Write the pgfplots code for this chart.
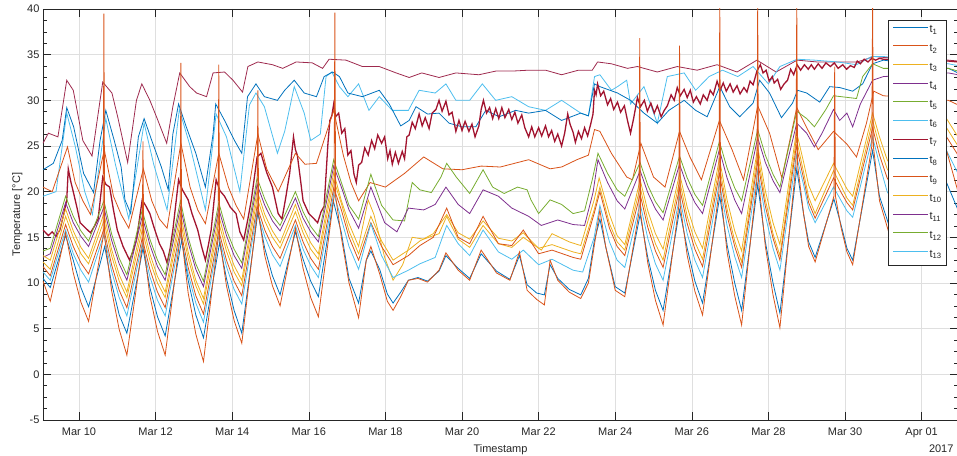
\documentclass[border=0pt]{standalone}
\usepackage{fontspec}
\setmainfont{Liberation Sans}
\usepackage{pgfplots}
\pgfplotsset{compat=1.18}
\definecolor{mB}{rgb}{0,0.447,0.741}
\definecolor{mO}{rgb}{0.850,0.325,0.098}
\definecolor{mY}{rgb}{0.929,0.694,0.125}
\definecolor{mP}{rgb}{0.494,0.184,0.556}
\definecolor{mG}{rgb}{0.466,0.674,0.188}
\definecolor{mC}{rgb}{0.301,0.745,0.933}
\definecolor{mR}{rgb}{0.635,0.078,0.184}
\definecolor{mM}{RGB}{158,42,78}
\definecolor{axc}{rgb}{0.15,0.15,0.15}
\definecolor{grd}{RGB}{223,223,223}
\newcommand{\fs}{\fontsize{11}{13}\selectfont}
\begin{document}
\begin{tikzpicture}
\begin{axis}[
  scale only axis, width=915pt, height=411pt,
  xmin=9.06, xmax=32.95, ymin=-5, ymax=40,
  xtick={10,12,...,32},
  xticklabels={Mar 10,Mar 12,Mar 14,Mar 16,Mar 18,Mar 20,Mar 22,Mar 24,Mar 26,Mar 28,Mar 30,Apr 01},
  ytick={-5,0,...,40},
  minor y tick num=3,
  grid=major, major grid style={grd, line width=0.6pt},
  axis line style={axc, line width=0.6pt},
  tick style={axc, line width=0.6pt},
  major tick length=8pt, minor tick length=4.5pt,
  tick align=inside,
  ticklabel style={font=\fs, text=axc},
  xticklabel style={anchor=base, yshift=-16pt},
  /pgf/number format/assume math mode=true,
  xlabel={Timestamp}, ylabel={Temperature [°C]},
  label style={font=\fs, text=axc},
  xlabel style={at={(axis description cs:0.5,0)}, anchor=base, yshift=-33pt},
  ylabel style={at={(axis description cs:-0.0251,0.5)}, anchor=base},
  every axis plot/.append style={line width=0.8pt},
  legend cell align=left,
  legend image code/.code={\draw[#1] (0pt,3.5pt) -- (35pt,3.5pt);},
  legend style={at={(rel axis cs:1,1)}, anchor=north east, xshift=-11pt, yshift=-11pt,
    draw=axc, line width=0.6pt, fill=white, font=\fs, text=axc,
    inner xsep=4pt, inner ysep=4pt, row sep=6.2pt,
    nodes={inner sep=1pt, text height=7.5pt, text depth=3pt}},
  legend entries={t\textsubscript{1},t\textsubscript{2},t\textsubscript{3},t\textsubscript{4},t\textsubscript{5},t\textsubscript{6},t\textsubscript{7},t\textsubscript{8},t\textsubscript{9},t\textsubscript{10},t\textsubscript{11},t\textsubscript{12},t\textsubscript{13}},
]
\addlegendimage{mB, line width=0.8pt}
\addlegendimage{mO, line width=0.8pt}
\addlegendimage{mY, line width=0.8pt}
\addlegendimage{mP, line width=0.8pt}
\addlegendimage{mG, line width=0.8pt}
\addlegendimage{mC, line width=0.8pt}
\addlegendimage{mR, line width=0.8pt}
\addlegendimage{mB, line width=0.8pt}
\addlegendimage{mO, line width=0.8pt}
\addlegendimage{mY, line width=0.8pt}
\addlegendimage{mP, line width=0.8pt}
\addlegendimage{mG, line width=0.8pt}
\addlegendimage{mC, line width=0.8pt}

% top maroon line
\addplot[mM, forget plot] coordinates {
(9.06,25.3) (9.2,26.4) (9.45,26) (9.68,32.2) (9.85,31.1) (10.1,25.6) (10.34,23.9) (10.55,30) (10.62,32) (10.86,30.8) (11.01,28.2) (11.27,23.2) (11.5,30) (11.64,31.8) (11.85,30) (12.06,27.8) (12.29,25.3) (12.45,29.3) (12.63,33) (12.89,31.5) (13.07,30.8) (13.33,30.4) (13.5,33) (13.8,33.1) (14.02,32.2) (14.27,30.9) (14.41,33.7) (14.67,34.2) (15.05,33.9) (15.32,33.5) (15.67,34.2) (16.09,34.1) (16.36,33.5) (16.53,34.5) (16.97,34.4) (17.4,33.7) (17.84,33.7) (18.28,33) (18.62,32.5) (18.95,33) (19.4,32.5) (19.84,33) (20.44,32.8) (20.88,33.2) (21.3,33.2) (21.74,33.3) (22.18,33.3) (22.6,32.8) (23.04,33.3) (23.4,33.3) (23.54,34.2) (23.9,34) (24.32,33.5) (24.58,33.7) (25.1,33.1) (25.62,33.7) (26.14,33.3) (26.66,33.9) (27.18,33.1) (27.7,34.4) (28.2,33.1) (28.75,34.4) (29.27,34.2) (29.8,34.2) (30.32,34.2) (30.76,34.8) (31.0,34.7) (32.7,34.4) (32.95,34.3)};
% cyan upper
\addplot[mC, forget plot] coordinates {
(9.06,19.5) (9.4,20) (9.68,28.6) (9.9,25) (10.15,20) (10.35,17.5) (10.7,28) (10.95,23) (11.3,17) (11.7,27.5) (11.95,23) (12.3,18) (12.62,29) (12.9,25) (13.3,18) (13.58,28.5) (13.85,26) (14.2,20) (14.45,29.5) (14.62,30.8) (14.84,29.3) (15.18,24.2) (15.37,26.6) (15.62,31.5) (15.88,28.6) (16.05,25.6) (16.3,26.3) (16.45,32.6) (16.6,33.1) (16.8,31.5) (17.02,30.4) (17.3,31.8) (17.57,28.9) (17.84,30.4) (18.18,28.9) (18.6,28.9) (18.88,31.1) (19.3,30.8) (19.58,31.8) (19.84,30) (20.2,30) (20.53,31.8) (20.88,30) (21.3,30.4) (21.74,29.3) (22.18,28.9) (22.6,30) (23.1,28.6) (23.3,28.3) (23.46,32.6) (23.6,32.8) (23.9,31.1) (24.06,31.5) (24.3,32.2) (24.4,29.6) (24.75,31.5) (25.1,27.5) (25.36,32.6) (25.8,33) (26.1,31.1) (26.45,32.6) (26.8,33.3) (27.2,32.6) (27.6,33.7) (28.0,31.8) (28.3,33.7) (28.75,34.5) (29.2,34.4) (29.8,34.2) (30.3,33.9) (30.7,34.8) (31.0,34.8) (32.7,34) (32.95,33.8)};
% blue upper
\addplot[mB, forget plot] coordinates {
(9.06,22.4) (9.33,23.1) (9.56,25.6) (9.68,29.2) (9.86,27.1) (10.12,22) (10.38,19.9) (10.55,25.6) (10.7,28.9) (10.92,25.6) (11.1,22.7) (11.2,19.1) (11.35,17.6) (11.55,26) (11.7,28) (11.9,25.6) (12.15,22.7) (12.33,20.2) (12.45,26.3) (12.6,29.6) (12.8,27.1) (13.05,24.2) (13.3,20.5) (13.5,26.3) (13.57,29.6) (13.8,27.8) (14.06,25.6) (14.25,24.2) (14.4,30.4) (14.62,31.8) (14.84,30.4) (15.18,30) (15.37,31.1) (15.62,32.2) (15.88,30.8) (16.2,30.4) (16.4,32.6) (16.62,33.1) (16.8,32.6) (17.02,30.8) (17.4,30.4) (17.84,31.1) (18.1,29.6) (18.4,27.2) (18.62,27.8) (18.8,29.3) (19.1,28.5) (19.4,28.6) (19.66,27.5) (20.0,27.1) (20.36,27.1) (20.62,28.9) (20.97,28.2) (21.4,28.9) (21.74,28.6) (22.18,28.9) (22.6,27.8) (23.1,28.6) (23.3,28.3) (23.46,31.8) (23.6,31.5) (24.06,30.8) (24.4,30) (24.75,28.6) (25.1,27.5) (25.4,28.9) (25.8,30) (26.1,28.9) (26.4,28.2) (26.73,31.5) (26.99,29.3) (27.25,28.2) (27.6,29.7) (27.77,32.2) (28.03,30.8) (28.34,28.1) (28.63,29.7) (28.76,31.1) (29.0,30.8) (29.34,29.8) (29.6,31.5) (29.86,31.4) (30.2,31) (30.46,31.8) (30.72,34) (31.0,34.4) (32.7,33.5) (32.95,33)};
% crimson noisy
\addplot[mR, forget plot, line width=1.3pt] coordinates {
(9.06,15.8) (9.2,15.2) (9.3,15.6) (9.4,15.1) (9.5,15.8) (9.6,17.5) (9.68,19.1) (9.72,22.5) (9.78,21.2) (9.85,20) (9.95,18.2) (10.03,16.6) (10.15,16.1) (10.3,15.5) (10.4,16.2) (10.5,17) (10.62,21.6) (10.7,20.8) (10.8,20.5) (10.9,18) (11.0,15.8) (11.15,14) (11.32,12.5) (11.42,13.6) (11.5,14.7) (11.65,19.1) (11.75,18.4) (11.85,17.6) (11.95,16.2) (12.1,14.3) (12.2,13.5) (12.3,12.2) (12.38,13.8) (12.45,15.8) (12.6,21.3) (12.7,20.2) (12.85,19.1) (12.95,17.6) (13.1,15.8) (13.2,14) (13.3,12.5) (13.38,14.2) (13.45,15.8) (13.58,21.3) (13.68,20.1) (13.8,19.5) (13.95,18.3) (14.1,17.6) (14.2,15.6) (14.3,14.7) (14.4,16.8) (14.5,19.1) (14.65,23.8) (14.75,24.2) (14.9,22.1) (15.05,20.5) (15.2,17.6) (15.3,17) (15.4,19.4) (15.5,22) (15.6,26) (15.65,24.6) (15.7,24) (15.78,21.4) (15.85,19) (16.0,17.6) (16.12,17.1) (16.23,16.6) (16.32,17.8) (16.4,18.4)
(16.5,25.3) (16.55,27.8) (16.6,28.3) (16.65,29.6) (16.7,28.2) (16.78,28.6) (16.86,26.4) (16.94,26.9) (17.02,24.0) (17.1,24.5) (17.18,21.9) (17.24,21.0) (17.3,22.9) (17.38,23.2) (17.46,24.8) (17.55,24.0) (17.64,25.6) (17.72,24.7) (17.8,26.2) (17.9,25.3) (17.98,26.0) (18.06,23.6) (18.12,24.5) (18.18,23.0) (18.26,24.3) (18.34,23.1) (18.44,24.4) (18.5,23.6) (18.56,26.0) (18.62,26.2) (18.7,27.6) (18.78,26.9) (18.88,28.5) (18.96,27.2) (19.04,28.1) (19.14,26.9) (19.22,28.6) (19.32,29.0) (19.4,30.0) (19.48,28.8) (19.58,29.9) (19.66,28.4) (19.74,28.7) (19.84,26.6) (19.92,27.8) (20.0,26.7) (20.08,27.7) (20.18,26.6) (20.26,27.4) (20.34,26.0) (20.44,27.2) (20.5,29.0) (20.56,30.0) (20.64,28.6) (20.72,29.2) (20.8,28.0) (20.88,29.1) (20.96,28.0) (21.04,29.2) (21.12,28.1) (21.22,29.0) (21.3,27.9) (21.38,28.7) (21.46,27.5) (21.56,28.4) (21.64,27.0) (21.74,26.0) (21.82,27.1) (21.9,26.0) (22.0,27.0) (22.08,26.1) (22.18,27.2) (22.26,26.0) (22.34,26.7) (22.42,25.5) (22.5,26.3) (22.6,25.0) (22.68,26.4) (22.76,28.5) (22.82,27.4) (22.9,26.5) (22.96,25.4) (23.04,26.6) (23.12,25.8) (23.2,27.0) (23.28,26.1) (23.36,27.4) (23.42,28.5) (23.46,31.1) (23.5,30.6) (23.54,31.8) (23.62,30.5) (23.7,31.0) (23.8,29.5) (23.88,30.2) (23.96,29.0) (24.06,29.8) (24.14,28.7) (24.24,29.4) (24.32,27.8) (24.4,26.4) (24.48,28.0) (24.58,30.3) (24.66,29.3) (24.76,30.0) (24.84,28.8) (24.93,29.7) (25.02,28.6) (25.1,29.4) (25.2,28.2) (25.28,28.9) (25.36,29.4) (25.46,30.6) (25.54,30.0) (25.62,31.4) (25.7,30.5) (25.8,31.2) (25.88,30.3) (25.96,31.1) (26.04,29.8) (26.12,30.4) (26.22,29.6) (26.3,30.6) (26.4,30.0) (26.48,31.1) (26.56,30.6) (26.66,32.1) (26.74,31.1) (26.82,31.9) (26.9,31.0) (27.0,31.8) (27.08,30.9) (27.18,31.6) (27.26,30.7) (27.36,31.4) (27.44,30.9) (27.52,32.1) (27.6,31.7) (27.7,33.2) (27.79,33.9) (27.86,33.0) (27.94,33.3) (28.02,32.1) (28.1,32.6) (28.15,31.9) (28.24,32.3) (28.32,31.2) (28.41,31.8) (28.5,32.2) (28.58,33.4) (28.66,32.8) (28.75,33.9) (28.84,33.3) (28.94,33.9) (29.04,33.4) (29.12,33.9) (29.2,33.4) (29.3,34.0) (29.4,33.5) (29.5,34.1) (29.62,33.7) (29.72,34.1) (29.82,33.5) (29.94,33.9) (30.04,33.4) (30.14,33.8) (30.24,33.6) (30.32,34.3) (30.4,34.0) (30.5,34.5) (30.6,34.2) (30.7,34.6) (30.8,34.4) (30.9,34.6) (31.0,34.5) (32.7,34.3) (32.95,34.2)};
% orange upper
\addplot[mO, forget plot] coordinates {
(9.06,20.5) (9.3,20) (9.7,24.9) (9.9,21) (10.1,19) (10.3,17.5) (10.66,24.6) (10.9,19.5) (11.1,17.5) (11.3,16) (11.68,22.5) (11.9,19) (12.1,17) (12.3,16) (12.66,25.3) (12.9,20.5) (13.1,18) (13.3,16.5) (13.65,24.2) (13.9,20.5) (14.1,18.5) (14.3,17) (14.67,26.3) (14.9,22.5) (15.2,20) (15.65,24.2) (15.9,23) (16.2,23.1) (16.65,28.9) (16.9,24) (17.1,21) (17.3,19) (17.6,21) (18.0,20.5) (18.5,22) (19.0,23.8) (19.5,22.5) (20.0,22.4) (20.5,22.8) (21.0,22.7) (21.74,23.5) (22.3,22.5) (22.6,22.7) (23.0,23.5) (23.3,24) (23.46,26.8) (23.6,26.6) (23.9,24.2) (24.3,21.6) (24.45,21.3) (24.67,25.3) (25.0,21.6) (25.3,20.5) (25.68,26.6) (25.95,23.8) (26.25,21.3) (26.72,27.8) (27.05,24.6) (27.35,21.3) (27.72,29.4) (28.03,26.4) (28.35,21.5) (28.74,29.2) (29.0,27) (29.3,24.6) (29.7,26.6) (30.05,25.2) (30.3,23.8) (30.56,27.5) (30.75,31) (31.0,30.5) (32.7,30) (32.95,29.5)};
% green
\addplot[mG, forget plot] coordinates {
(9.06,13.5) (9.25,13.8) (9.65,19.5) (9.85,17.3) (10.05,15.7) (10.25,14.6) (10.65,19.0) (10.85,15.4) (11.05,12.7) (11.25,10.9) (11.65,18.0) (11.85,14.8) (12.05,12.5) (12.25,10.9) (12.65,19.0) (12.85,15.0) (13.05,12.1) (13.25,10.2) (13.65,18.8) (13.85,15.8) (14.05,13.7) (14.25,12.2) (14.65,21.5) (14.85,19.2) (15.05,17.4) (15.25,16.3) (15.65,20.0) (15.85,17.8) (16.05,16.2) (16.25,15.1) (16.65,23.5)
(16.85,21.0) (17.05,18.5) (17.3,17.0) (17.62,21.9) (17.9,18.5) (18.2,16.9) (18.5,16.8) (18.7,21.0) (18.9,20.2) (19.2,19.9) (19.45,21.6) (19.6,23.1) (19.85,21.6) (20.2,19.8) (20.55,22.4) (20.8,20.5) (21.1,19.8) (21.45,20.5) (21.7,20.2) (21.8,19.1) (22.0,17.6) (22.3,19.1) (22.6,18.6) (22.9,17.6) (23.2,17.9) (23.4,21.3) (23.55,24.2) (23.8,22.0) (24.05,20.2)
(24.25,19.5) (24.65,23.2) (24.85,20.7) (25.05,18.9) (25.25,17.7) (25.68,23.9) (25.88,21.5) (26.08,19.7) (26.28,18.5) (26.72,25.5) (26.92,22.6) (27.12,20.4) (27.3,19.0) (27.72,26.8) (27.92,24.0) (28.12,21.9) (28.3,20.5) (28.74,28.8) (29.0,28.0) (29.2,27.1) (29.5,29.0) (29.7,30.5) (29.9,30.4) (30.3,30.2) (30.46,32.6) (30.72,34.0) (31.0,33.5) (32.7,33.5) (32.95,33.2)};
% purple
\addplot[mP, forget plot] coordinates {
(9.06,12.8) (9.25,13.2) (9.65,18.8) (9.85,16.6) (10.05,15.1) (10.25,14.0) (10.65,18.3) (10.85,14.7) (11.05,12.1) (11.25,10.3) (11.65,17.3) (11.85,14.2) (12.05,11.8) (12.25,10.3) (12.65,18.3) (12.85,14.4) (13.05,11.5) (13.25,9.6) (13.65,18.1) (13.85,15.2) (14.05,13.0) (14.25,11.6) (14.65,20.8) (14.85,18.5) (15.05,16.8) (15.25,15.7) (15.65,19.3) (15.85,17.1) (16.05,15.6) (16.25,14.5) (16.65,22.8)
(16.85,20.5) (17.05,18.0) (17.3,16.0) (17.62,20.5) (17.98,16.6) (18.3,15.6) (18.6,18.2) (19.0,18.0) (19.3,18.6) (19.58,20.5) (19.9,18.6) (20.2,17.6) (20.55,20.2) (20.95,19.5) (21.3,18.2) (21.74,17.3) (22.07,16.3) (22.5,16.9) (22.9,16.4) (23.2,16.3) (23.42,19.9) (23.55,23.5) (23.8,21.0) (24.05,19.0)
(24.25,18.1) (24.65,22.3) (24.85,19.9) (25.05,18.1) (25.25,16.9) (25.68,23.0) (25.88,20.6) (26.08,18.8) (26.28,17.6) (26.72,24.6) (26.92,21.5) (27.12,19.1) (27.3,17.6) (27.72,25.9) (27.92,23.2) (28.12,21.2) (28.3,19.9) (28.74,27.5) (29.0,26.4) (29.2,24.9) (29.4,26.4) (29.7,29.0) (29.86,27.8) (30.05,28.6) (30.2,27.1) (30.4,29.6) (30.72,32.2) (31.0,32.6) (32.7,33.0) (32.95,32.8)};
% yellow
\addplot[mY, forget plot] coordinates {
(9.06,13.0) (9.25,12.5) (9.65,18.1) (9.85,15.7) (10.05,13.9) (10.25,12.7) (10.65,17.6) (10.85,13.7) (11.05,10.9) (11.25,9.0) (11.65,16.6) (11.85,13.2) (12.05,10.7) (12.25,9.0) (12.65,17.6) (12.85,13.4) (13.05,10.3) (13.25,8.3) (13.65,17.4) (13.85,14.2) (14.05,11.9) (14.25,10.3) (14.65,20.1) (14.85,17.5) (15.05,15.7) (15.25,14.4) (15.65,18.6) (15.85,16.2) (16.05,14.4) (16.25,13.2) (16.65,22.1)
(16.85,19.0) (17.05,16.5) (17.3,14.0) (17.55,19.1) (17.7,17.5) (17.98,12.8) (18.2,10.3) (18.45,12.0) (18.7,15.0) (19.0,14.8) (19.4,15.4) (19.6,17.3) (19.9,14.8) (20.2,13.9) (20.55,16.3) (20.95,14.3) (21.3,13.9) (21.6,15.0) (22.07,13.6) (22.35,15.4) (22.8,14.5) (23.1,14.1) (23.45,19.1) (23.58,21.5) (23.85,17.5) (24.05,15.2)
(24.25,14.2) (24.65,21.3) (24.85,17.9) (25.05,15.4) (25.25,13.7) (25.68,22.0) (25.88,18.3) (26.08,15.6) (26.28,13.8) (26.72,23.6) (26.92,19.1) (27.12,15.7) (27.3,13.5) (27.72,24.9) (27.92,20.1) (28.12,16.6) (28.3,14.2) (28.73,26.6) (28.92,23.2) (29.05,20.7) (29.22,19.0) (29.7,23.1) (29.9,21.5) (30.05,20.3) (30.2,19.5) (30.72,28.6) (30.9,26.0) (31.1,23.5) (31.25,22.5) (31.65,28.0) (31.85,25.5) (32.05,23.5) (32.25,23.0) (32.65,28.0) (32.95,26.0)};
% yellow low
\addplot[mY, forget plot] coordinates {
(9.06,12.3) (9.25,11.5) (9.65,17.3) (9.85,15.0) (10.05,13.2) (10.25,12.1) (10.65,16.8) (10.85,13.0) (11.05,10.2) (11.25,8.4) (11.65,15.8) (11.85,12.5) (12.05,10.0) (12.25,8.4) (12.65,16.8) (12.85,12.7) (13.05,9.7) (13.25,7.7) (13.65,16.6) (13.85,13.5) (14.05,11.2) (14.25,9.7) (14.65,19.3) (14.85,16.8) (15.05,15.0) (15.25,13.8) (15.65,17.8) (15.85,15.5) (16.05,13.7) (16.25,12.6) (16.65,21.3)
(16.85,18.7) (17.05,15.7) (17.3,13.2) (17.62,17.3) (17.9,14.6) (18.2,12.5) (18.6,13.6) (18.9,14.6) (19.25,15.4) (19.6,17.5) (19.9,15.5) (20.2,14.8) (20.55,16.8) (20.95,14.9) (21.3,14.6) (21.6,15.5) (22.0,13.8) (22.35,14.2) (22.9,13.4) (23.1,13.2) (23.45,18.0) (23.6,20.5) (23.85,16.5) (24.05,14.5)
(24.25,13.6) (24.65,20.5) (24.85,16.9) (25.05,14.3) (25.25,12.5) (25.68,21.2) (25.88,17.3) (26.08,14.5) (26.28,12.6) (26.72,22.8) (26.92,18.1) (27.12,14.6) (27.3,12.3) (27.72,24.1) (27.92,19.1) (28.12,15.4) (28.3,13.0) (28.73,25.8) (28.92,22.1) (29.05,19.4) (29.22,17.6) (29.7,22.3) (29.9,20.6) (30.05,19.3) (30.2,18.5) (30.72,27.8) (30.9,25.0) (31.1,22.5) (31.25,21.5) (31.65,27.0) (31.85,24.5) (32.05,22.5) (32.25,22.0) (32.65,27.0) (32.95,25.0)};
% orange mid
\addplot[mO, forget plot] coordinates {
(9.06,11.8) (9.25,10.8) (9.65,16.4) (9.85,14.0) (10.05,12.2) (10.25,11.0) (10.65,15.9) (10.85,12.0) (11.05,9.2) (11.25,7.3) (11.65,14.9) (11.85,11.5) (12.05,9.0) (12.25,7.3) (12.65,15.9) (12.85,11.7) (13.05,8.6) (13.25,6.6) (13.65,15.7) (13.85,12.5) (14.05,10.2) (14.25,8.6) (14.65,18.4) (14.85,15.8) (15.05,14.0) (15.25,12.7) (15.65,16.9) (15.85,14.5) (16.05,12.7) (16.25,11.5) (16.65,20.4)
(16.85,18.0) (17.05,15.0) (17.3,12.5) (17.62,16.6) (17.9,14.0) (18.2,12.0) (18.6,13.0) (18.9,14.1) (19.25,15.0) (19.6,18.2) (19.9,15.0) (20.2,14.3) (20.55,17.3) (20.95,14.3) (21.3,14.1) (21.6,15.8) (22.0,13.2) (22.35,13.6) (22.9,12.8) (23.1,12.6) (23.45,17.6) (23.6,20.0) (23.85,16.0) (24.05,14.0)
(24.25,13.0) (24.65,19.7) (24.85,16.1) (25.05,13.5) (25.25,11.7) (25.68,20.4) (25.88,16.5) (26.08,13.7) (26.28,11.8) (26.72,22.0) (26.92,17.4) (27.12,14.0) (27.3,11.7) (27.72,23.3) (27.92,18.4) (28.12,14.9) (28.3,12.5) (28.73,25.0) (28.92,21.4) (29.05,18.8) (29.22,17.1) (29.7,21.5) (29.9,19.9) (30.05,18.8) (30.2,18.0) (30.72,27.0) (30.9,24.0) (31.1,21.5) (31.25,20.5) (31.65,26.0) (31.85,23.5) (32.05,21.5) (32.25,21.0) (32.65,26.0) (32.95,24.0)};
% cyan mid
\addplot[mC, forget plot] coordinates {
(9.06,11.2) (9.25,10.3) (9.65,15.8) (9.85,13.2) (10.05,11.4) (10.25,10.1) (10.65,15.3) (10.85,11.3) (11.05,8.4) (11.25,6.4) (11.65,14.3) (11.85,10.7) (12.05,8.1) (12.25,6.4) (12.65,15.3) (12.85,11.0) (13.05,7.8) (13.25,5.7) (13.65,15.1) (13.85,11.8) (14.05,9.3) (14.25,7.7) (14.65,17.8) (14.85,15.1) (15.05,13.1) (15.25,11.8) (15.65,16.3) (15.85,13.7) (16.05,11.9) (16.25,10.6) (16.65,19.8)
(16.85,17.0) (17.05,14.0) (17.3,11.5) (17.62,16.5) (17.9,13.0) (18.2,10.6) (18.6,11.4) (18.9,12.1) (19.3,12.8) (19.6,16.3) (19.9,14.3) (20.2,13.0) (20.55,15.8) (20.95,13.4) (21.3,12.6) (21.6,13.6) (22.0,12.0) (22.35,12.6) (22.9,11.4) (23.15,11.2) (23.45,15.0) (23.6,18.5) (23.85,14.5) (24.05,12.5)
(24.25,11.7) (24.65,18.7) (24.85,14.9) (25.05,12.1) (25.25,10.3) (25.68,19.4) (25.88,15.4) (26.08,12.5) (26.28,10.6) (26.72,21.0) (26.92,16.3) (27.12,12.9) (27.3,10.6) (27.72,22.3) (27.92,17.4) (28.12,13.8) (28.3,11.4) (28.73,24.0) (28.92,20.7) (29.05,18.2) (29.22,16.6) (29.7,20.5) (29.9,19.0) (30.05,17.9) (30.2,17.2) (30.72,26.0) (30.9,23.0) (31.1,20.0) (31.25,19.0) (31.65,25.0) (31.85,22.5) (32.05,20.5) (32.25,20.0) (32.65,24.5) (32.95,22.0)};
% blue low
\addplot[mB, forget plot] coordinates {
(9.06,10.5) (9.25,9.5) (9.65,15.2) (9.85,12.5) (10.05,9.5) (10.25,7.4) (10.67,14.0) (10.85,10.0) (11.05,6.5) (11.25,4.5) (11.67,13.8) (11.85,9.5) (12.05,6.3) (12.25,4.2) (12.68,14.7) (12.85,10.3) (13.05,6.5) (13.25,4.0) (13.67,14.4) (13.85,10.5) (14.05,7.0) (14.25,4.5) (14.67,17.7) (14.85,13.8) (15.05,10.8) (15.25,8.7) (15.65,15.6) (15.85,12.6) (16.05,10.2) (16.25,8.5) (16.64,19.0)
(16.85,15.5) (17.05,10.5) (17.3,7.8) (17.5,12.5) (17.62,13.5) (17.85,11.5) (18.05,8.8) (18.2,7.8) (18.4,9.0) (18.6,10.3) (18.85,10.6) (19.1,10.2) (19.4,11.3) (19.58,13.0) (19.9,11.6) (20.2,10.5) (20.5,13.2) (20.9,11.3) (21.25,10.4) (21.5,13.0) (21.7,9.8) (21.95,8.9) (22.15,8.7) (22.3,12.0) (22.5,10.5) (22.8,9.3) (23.1,8.7) (23.3,10.5) (23.45,14.5) (23.6,17.0) (23.75,14.0) (24.0,9.6)
(24.25,8.9) (24.65,17.5) (24.85,12.8) (25.05,9.2) (25.25,7.0) (25.68,18.0) (25.88,13.8) (26.08,10.2) (26.28,7.8) (26.73,19.5) (26.92,14.2) (27.12,10.0) (27.3,7.0) (27.72,20.8) (27.92,14.5) (28.12,10.0) (28.3,6.7) (28.74,22.5) (28.92,17.5) (29.05,14.5) (29.22,12.8) (29.71,19.2) (29.9,16.3) (30.05,13.8) (30.2,12.5) (30.72,24.5) (30.9,19.5) (31.25,15.0) (31.65,22.0) (31.9,19.0) (32.25,16.0) (32.65,21.0) (32.95,18.0)};
% orange low with spikes
\addplot[mO, forget plot] coordinates {
(9.06,10.2) (9.25,8.0) (9.65,15.5) (9.85,11.1) (10.05,7.9)
(10.25,5.8) (10.63,15.0) (10.65,39.5) (10.67,15.0) (10.85,9.2) (11.05,4.9)
(11.25,2.1) (11.65,14.0) (11.67,25.5) (11.69,14.0) (11.85,8.6) (12.05,4.7)
(12.25,2.1) (12.64,15.0) (12.66,34.1) (12.68,15.0) (12.85,8.9) (13.05,4.4)
(13.25,1.4) (13.63,14.8) (13.65,33.9) (13.67,14.8) (13.85,9.7) (14.05,5.9)
(14.25,3.4) (14.65,17.5) (14.67,31.1) (14.69,17.5) (14.85,13.0) (15.05,9.7)
(15.25,7.5) (15.65,16.0) (15.85,11.6) (16.05,8.4)
(16.25,6.3) (16.66,19.5) (16.68,39.6) (16.70,19.5) (16.85,15.0) (17.05,10.0) (17.3,6.2) (17.5,12.5) (17.62,14.0) (17.85,11.0) (18.05,8.0) (18.2,7.0) (18.4,8.5) (18.6,10.3) (18.85,10.5) (19.1,10.1) (19.4,11.4) (19.58,13.3) (19.9,11.4) (20.2,10.3) (20.5,13.6) (20.9,11.1) (21.25,10.3) (21.5,13.4) (21.7,9.2) (21.95,8.2) (22.15,7.6) (22.3,12.5) (22.5,10.3) (22.8,9.0) (23.1,8.3) (23.3,10.0) (23.45,14.0) (23.6,18.0) (23.75,14.0) (24.0,9.2)
(24.25,8.5) (24.62,17.7) (24.64,36.8) (24.66,17.7) (24.85,12.2) (25.05,8.1)
(25.25,5.4) (25.66,18.4) (25.68,36.0) (25.70,18.4) (25.88,13.0) (26.08,9.1)
(26.28,6.5) (26.71,20.0) (26.73,41) (26.75,20.0) (26.92,13.4) (27.12,8.6)
(27.3,5.4) (27.70,21.3) (27.72,41) (27.74,21.3) (27.92,14.0) (28.12,8.7)
(28.3,5.1) (28.72,23.0) (28.74,41) (28.76,23.0) (28.92,17.5) (29.05,14.0)
(29.22,12.3) (29.71,19.5) (29.73,33.7) (29.75,19.5) (29.9,16.0) (30.05,13.4)
(30.2,12.0) (30.70,25.0) (30.72,41) (30.74,25.0) (30.9,19.0) (31.25,14.0) (31.65,24.0) (31.9,19.0) (32.25,15.0) (32.65,24.5) (32.95,20.0)};
\end{axis}
\node[anchor=base east, font=\fs, text=axc] at ([xshift=-1pt,yshift=-33pt]current axis.south east) {2017};
\pgfresetboundingbox
\path ([xshift=-43pt,yshift=-36pt]current axis.south west) rectangle ([xshift=-1pt,yshift=9pt]current axis.north east);
\end{tikzpicture}
\end{document}
